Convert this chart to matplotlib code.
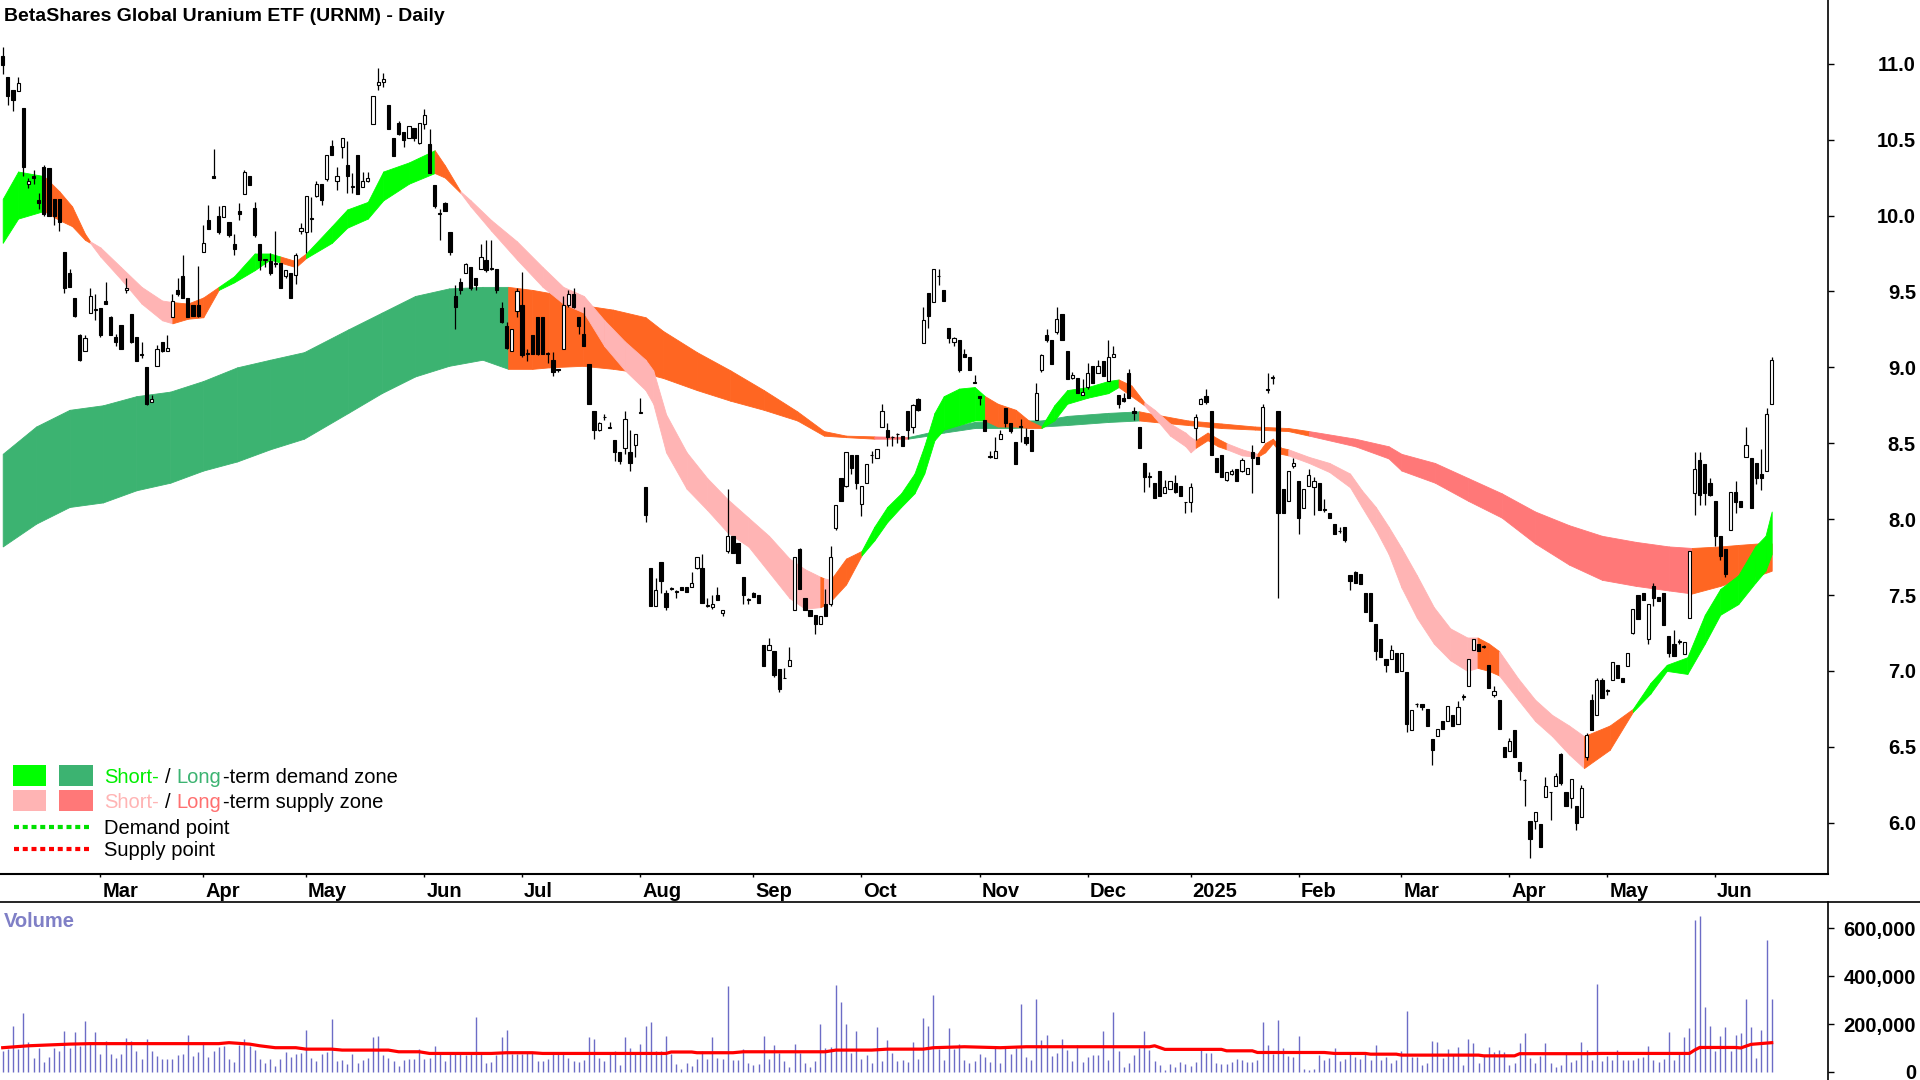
import numpy as np
import matplotlib
matplotlib.use("Agg")
import matplotlib.pyplot as plt
from matplotlib.lines import Line2D
from matplotlib.patches import Rectangle
from matplotlib.ticker import FuncFormatter
from matplotlib.transforms import ScaledTranslation

plt.rcParams['font.family'] = ['Liberation Sans', 'DejaVu Sans']

# ---- daily candles, Feb 2024 .. Jun 2025 ----
opens = [
    11.05, 10.91, 10.83, 10.82, 10.71, 10.21, 10.26, 10.10, 10.32, 10.31,
    10.11, 10.11, 9.76, 9.62, 9.46, 9.21, 9.11, 9.36, 9.38, 9.39,
    9.44, 9.33, 9.20, 9.28, 9.51, 9.35, 9.20, 9.09, 9.00, 8.77,
    9.01, 9.17, 9.11, 9.33, 9.51, 9.60, 9.46, 9.41, 9.41, 9.76,
    9.97, 10.26, 10.00, 9.99, 9.96, 9.81, 10.03, 10.14, 10.26, 10.05,
    9.81, 9.71, 9.70, 9.69, 9.69, 9.60, 9.62, 9.61, 9.90, 9.89,
    9.98, 10.13, 10.21, 10.24, 10.46, 10.23, 10.45, 10.33, 10.19, 10.40,
    10.19, 10.23, 10.60, 10.86, 10.88, 10.73, 10.51, 10.61, 10.55, 10.51,
    10.58, 10.48, 10.60, 10.47, 10.20, 10.01, 10.08, 9.89, 9.47, 9.56,
    9.62, 9.66, 9.59, 9.65, 9.71, 9.65, 9.65, 9.39, 9.27, 9.11,
    9.37, 9.41, 9.09, 9.21, 9.33, 9.33, 9.09, 9.05, 8.99, 9.12,
    9.41, 9.48, 9.33, 9.22, 9.02, 8.71, 8.59, 8.67, 8.60, 8.52,
    8.44, 8.47, 8.44, 8.49, 8.70, 8.21, 7.68, 7.43, 7.72, 7.51,
    7.54, 7.52, 7.55, 7.55, 7.55, 7.68, 7.68, 7.43, 7.42, 7.50,
    7.38, 7.79, 7.89, 7.84, 7.62, 7.47, 7.51, 7.50, 7.17, 7.14,
    7.13, 7.01, 6.95, 7.03, 7.40, 7.80, 7.48, 7.40, 7.37, 7.31,
    7.44, 7.44, 7.94, 8.27, 8.22, 8.42, 8.42, 8.10, 8.24, 8.42,
    8.40, 8.61, 8.59, 8.54, 8.56, 8.55, 8.71, 8.61, 8.79, 9.16,
    9.49, 9.43, 9.60, 9.51, 9.26, 9.17, 9.18, 9.09, 9.07, 8.90,
    8.81, 8.65, 8.41, 8.40, 8.53, 8.73, 8.63, 8.51, 8.61, 8.54,
    8.59, 8.65, 8.98, 9.21, 9.18, 9.23, 9.35, 9.11, 8.93, 8.93,
    8.82, 8.87, 9.01, 8.96, 9.04, 8.91, 9.07, 8.82, 8.80, 8.96,
    8.71, 8.61, 8.37, 8.28, 8.24, 8.32, 8.17, 8.20, 8.24, 8.22,
    8.11, 8.11, 8.60, 8.76, 8.81, 8.71, 8.40, 8.42, 8.26, 8.30,
    8.33, 8.32, 8.30, 8.44, 8.41, 8.51, 8.85, 8.93, 8.71, 8.20,
    8.12, 8.35, 8.25, 8.07, 8.22, 8.21, 8.24, 8.06, 8.04, 7.97,
    7.92, 7.95, 7.63, 7.65, 7.64, 7.51, 7.51, 7.31, 7.21, 7.08,
    7.08, 7.12, 7.00, 6.99, 6.61, 6.78, 6.78, 6.75, 6.55, 6.57,
    6.67, 6.67, 6.71, 6.65, 6.83, 6.90, 7.14, 7.18, 7.16, 7.04,
    6.84, 6.81, 6.50, 6.47, 6.61, 6.40, 6.28, 6.01, 6.01, 5.99,
    6.17, 6.20, 6.24, 6.45, 6.20, 6.16, 6.11, 6.04, 6.43, 6.81,
    6.71, 6.94, 6.87, 6.94, 7.04, 6.95, 7.03, 7.25, 7.50, 7.51,
    7.21, 7.56, 7.49, 7.51, 7.23, 7.18, 7.19, 7.11, 7.35, 8.17,
    8.39, 8.36, 8.24, 8.12, 7.89, 7.80, 7.93, 8.18, 8.12, 8.41,
    8.40, 8.37, 8.30, 8.32, 8.76,
]
highs = [
    11.11, 10.91, 10.83, 10.91, 10.71, 10.25, 10.30, 10.15, 10.33, 10.31,
    10.11, 10.11, 9.76, 9.65, 9.46, 9.22, 9.21, 9.52, 9.48, 9.39,
    9.56, 9.34, 9.22, 9.28, 9.59, 9.35, 9.20, 9.17, 9.00, 8.82,
    9.15, 9.17, 9.21, 9.48, 9.59, 9.74, 9.46, 9.41, 9.67, 9.94,
    10.07, 10.44, 10.06, 10.06, 9.96, 9.88, 10.08, 10.30, 10.26, 10.09,
    9.81, 9.71, 9.75, 9.90, 9.69, 9.64, 9.62, 9.75, 9.95, 10.13,
    10.12, 10.23, 10.21, 10.40, 10.50, 10.32, 10.51, 10.49, 10.28, 10.40,
    10.29, 10.29, 10.79, 10.97, 10.94, 10.73, 10.51, 10.62, 10.55, 10.59,
    10.58, 10.61, 10.70, 10.57, 10.20, 10.04, 10.09, 9.89, 9.54, 9.59,
    9.69, 9.66, 9.59, 9.81, 9.84, 9.84, 9.65, 9.43, 9.30, 9.25,
    9.52, 9.63, 9.12, 9.21, 9.33, 9.33, 9.10, 9.10, 8.99, 9.47,
    9.51, 9.52, 9.33, 9.40, 9.02, 8.71, 8.64, 8.69, 8.64, 8.52,
    8.44, 8.71, 8.59, 8.56, 8.80, 8.21, 7.68, 7.61, 7.72, 7.53,
    7.55, 7.53, 7.55, 7.55, 7.65, 7.75, 7.77, 7.48, 7.50, 7.55,
    7.40, 8.20, 7.89, 7.84, 7.62, 7.48, 7.52, 7.50, 7.17, 7.22,
    7.13, 7.01, 7.02, 7.16, 7.75, 7.81, 7.48, 7.40, 7.37, 7.36,
    7.54, 7.82, 8.09, 8.27, 8.44, 8.42, 8.42, 8.22, 8.36, 8.45,
    8.46, 8.76, 8.63, 8.55, 8.57, 8.55, 8.71, 8.76, 8.80, 9.40,
    9.49, 9.65, 9.65, 9.51, 9.26, 9.20, 9.18, 9.12, 9.07, 8.95,
    8.81, 8.65, 8.45, 8.54, 8.59, 8.73, 8.63, 8.51, 8.66, 8.60,
    8.59, 8.90, 9.09, 9.25, 9.18, 9.40, 9.35, 9.11, 8.97, 8.93,
    8.92, 9.03, 9.01, 9.05, 9.04, 9.18, 9.14, 8.82, 8.83, 8.99,
    8.74, 8.61, 8.37, 8.31, 8.24, 8.32, 8.26, 8.25, 8.29, 8.22,
    8.11, 8.24, 8.69, 8.80, 8.86, 8.71, 8.40, 8.42, 8.31, 8.33,
    8.33, 8.40, 8.34, 8.49, 8.41, 8.76, 8.96, 8.95, 8.71, 8.20,
    8.32, 8.40, 8.25, 8.20, 8.33, 8.28, 8.24, 8.13, 8.04, 7.97,
    7.95, 7.95, 7.63, 7.66, 7.64, 7.51, 7.51, 7.31, 7.21, 7.08,
    7.17, 7.12, 7.12, 6.99, 6.74, 6.79, 6.78, 6.75, 6.55, 6.62,
    6.67, 6.77, 6.71, 6.80, 6.85, 7.08, 7.21, 7.18, 7.17, 7.04,
    6.90, 6.81, 6.50, 6.56, 6.61, 6.40, 6.29, 6.01, 6.07, 5.99,
    6.30, 6.20, 6.33, 6.46, 6.20, 6.29, 6.11, 6.25, 6.59, 6.85,
    6.95, 6.95, 6.88, 7.06, 7.04, 6.95, 7.12, 7.41, 7.50, 7.51,
    7.44, 7.58, 7.49, 7.51, 7.23, 7.27, 7.21, 7.19, 7.79, 8.44,
    8.44, 8.36, 8.27, 8.12, 7.89, 7.80, 8.18, 8.25, 8.12, 8.61,
    8.40, 8.37, 8.46, 8.73, 9.07,
]
lows = [
    10.93, 10.73, 10.69, 10.82, 10.26, 10.18, 10.21, 10.04, 10.00, 10.00,
    9.94, 9.90, 9.49, 9.53, 9.33, 9.04, 9.11, 9.36, 9.31, 9.20,
    9.42, 9.21, 9.14, 9.12, 9.49, 9.16, 9.04, 9.06, 8.75, 8.77,
    9.01, 9.10, 9.11, 9.33, 9.47, 9.46, 9.33, 9.34, 9.33, 9.76,
    9.91, 10.25, 9.88, 9.99, 9.86, 9.74, 9.97, 10.14, 10.20, 9.86,
    9.64, 9.66, 9.61, 9.66, 9.52, 9.59, 9.46, 9.55, 9.88, 9.75,
    9.89, 10.12, 10.07, 10.23, 10.40, 10.17, 10.38, 10.15, 10.15, 10.14,
    10.19, 10.22, 10.60, 10.83, 10.85, 10.57, 10.39, 10.53, 10.45, 10.51,
    10.49, 10.47, 10.57, 10.28, 10.05, 9.84, 10.03, 9.74, 9.25, 9.48,
    9.62, 9.51, 9.51, 9.65, 9.63, 9.64, 9.49, 9.29, 9.12, 9.11,
    9.33, 9.07, 9.04, 9.09, 9.08, 9.09, 9.03, 8.94, 8.97, 9.12,
    9.40, 9.39, 9.22, 9.14, 8.76, 8.53, 8.58, 8.65, 8.60, 8.38,
    8.36, 8.43, 8.32, 8.41, 8.70, 7.98, 7.43, 7.43, 7.51, 7.40,
    7.53, 7.48, 7.53, 7.52, 7.55, 7.67, 7.45, 7.42, 7.41, 7.47,
    7.36, 7.78, 7.78, 7.71, 7.44, 7.44, 7.49, 7.45, 7.03, 7.14,
    6.96, 6.86, 6.95, 7.03, 7.40, 7.54, 7.40, 7.36, 7.24, 7.31,
    7.36, 7.43, 7.93, 8.12, 8.21, 8.30, 8.20, 8.02, 8.24, 8.37,
    8.40, 8.61, 8.48, 8.48, 8.50, 8.48, 8.53, 8.57, 8.71, 9.16,
    9.26, 9.43, 9.54, 9.44, 9.16, 9.14, 8.97, 9.07, 8.98, 8.90,
    8.75, 8.58, 8.40, 8.40, 8.53, 8.61, 8.57, 8.36, 8.51, 8.49,
    8.45, 8.65, 8.97, 9.17, 9.02, 9.22, 9.18, 8.92, 8.92, 8.83,
    8.82, 8.86, 8.90, 8.96, 8.94, 8.91, 9.07, 8.73, 8.77, 8.80,
    8.65, 8.47, 8.18, 8.21, 8.14, 8.15, 8.17, 8.20, 8.17, 8.15,
    8.04, 8.05, 8.52, 8.76, 8.76, 8.42, 8.31, 8.28, 8.25, 8.29,
    8.25, 8.31, 8.30, 8.17, 8.36, 8.51, 8.83, 8.89, 7.48, 8.04,
    8.12, 8.34, 7.90, 8.07, 8.22, 8.03, 8.06, 8.05, 8.01, 7.90,
    7.91, 7.85, 7.53, 7.58, 7.57, 7.39, 7.33, 7.07, 7.09, 6.99,
    7.08, 6.99, 7.00, 6.60, 6.61, 6.76, 6.74, 6.64, 6.38, 6.57,
    6.62, 6.67, 6.64, 6.65, 6.81, 6.90, 7.14, 7.13, 7.15, 6.89,
    6.83, 6.62, 6.43, 6.47, 6.43, 6.28, 6.11, 5.77, 5.96, 5.84,
    6.17, 6.02, 6.24, 6.25, 6.11, 6.10, 5.95, 6.04, 6.41, 6.61,
    6.71, 6.82, 6.84, 6.94, 6.95, 6.93, 7.03, 7.24, 7.34, 7.47,
    7.18, 7.43, 7.46, 7.30, 7.09, 7.10, 7.18, 7.11, 7.35, 8.03,
    8.09, 8.09, 8.15, 7.82, 7.73, 7.62, 7.93, 8.04, 8.08, 8.41,
    8.07, 8.23, 8.19, 8.32, 8.76,
]
closes = [
    10.99, 10.79, 10.76, 10.87, 10.32, 10.23, 10.25, 10.08, 10.01, 10.00,
    10.00, 9.96, 9.52, 9.53, 9.34, 9.05, 9.19, 9.47, 9.38, 9.21,
    9.42, 9.21, 9.17, 9.12, 9.52, 9.17, 9.04, 9.08, 8.76, 8.79,
    9.12, 9.11, 9.13, 9.44, 9.48, 9.46, 9.33, 9.34, 9.34, 9.82,
    9.91, 10.25, 9.89, 10.06, 9.87, 9.78, 10.01, 10.29, 10.20, 9.87,
    9.71, 9.71, 9.62, 9.68, 9.52, 9.64, 9.46, 9.74, 9.92, 10.13,
    9.98, 10.21, 10.10, 10.40, 10.40, 10.26, 10.51, 10.26, 10.19, 10.14,
    10.23, 10.25, 10.79, 10.88, 10.90, 10.57, 10.39, 10.54, 10.50, 10.59,
    10.51, 10.61, 10.66, 10.28, 10.06, 10.01, 10.03, 9.76, 9.40, 9.51,
    9.68, 9.52, 9.54, 9.73, 9.64, 9.65, 9.51, 9.30, 9.13, 9.25,
    9.50, 9.08, 9.09, 9.09, 9.09, 9.09, 9.09, 8.97, 8.98, 9.41,
    9.48, 9.40, 9.27, 9.14, 8.76, 8.59, 8.63, 8.67, 8.60, 8.44,
    8.38, 8.66, 8.37, 8.56, 8.70, 8.03, 7.43, 7.53, 7.59, 7.42,
    7.54, 7.52, 7.53, 7.52, 7.58, 7.75, 7.45, 7.43, 7.44, 7.47,
    7.40, 7.89, 7.78, 7.71, 7.50, 7.47, 7.49, 7.45, 7.03, 7.17,
    6.97, 6.88, 6.95, 7.07, 7.75, 7.54, 7.40, 7.36, 7.31, 7.36,
    7.36, 7.75, 8.09, 8.12, 8.44, 8.34, 8.24, 8.22, 8.36, 8.42,
    8.46, 8.71, 8.54, 8.54, 8.56, 8.48, 8.59, 8.75, 8.72, 9.31,
    9.34, 9.65, 9.60, 9.44, 9.19, 9.19, 8.98, 9.07, 8.98, 8.90,
    8.80, 8.58, 8.41, 8.45, 8.56, 8.63, 8.58, 8.36, 8.61, 8.50,
    8.45, 8.83, 9.08, 9.18, 9.02, 9.32, 9.18, 8.92, 8.95, 8.83,
    8.84, 8.96, 8.90, 9.01, 8.94, 9.07, 9.09, 8.76, 8.78, 8.80,
    8.70, 8.47, 8.28, 8.28, 8.14, 8.15, 8.21, 8.25, 8.18, 8.15,
    8.11, 8.21, 8.67, 8.79, 8.77, 8.42, 8.31, 8.28, 8.31, 8.32,
    8.25, 8.39, 8.34, 8.40, 8.36, 8.74, 8.85, 8.93, 8.04, 8.04,
    8.32, 8.37, 8.01, 8.20, 8.29, 8.25, 8.06, 8.06, 8.01, 7.90,
    7.92, 7.86, 7.59, 7.58, 7.57, 7.39, 7.33, 7.13, 7.09, 7.04,
    7.14, 6.99, 7.12, 6.65, 6.74, 6.78, 6.76, 6.64, 6.48, 6.62,
    6.62, 6.77, 6.64, 6.76, 6.83, 7.08, 7.21, 7.13, 7.16, 6.89,
    6.87, 6.62, 6.43, 6.54, 6.43, 6.34, 6.28, 5.89, 6.07, 5.84,
    6.24, 6.20, 6.31, 6.26, 6.11, 6.29, 6.00, 6.23, 6.58, 6.61,
    6.94, 6.82, 6.87, 7.06, 6.95, 6.93, 7.12, 7.41, 7.34, 7.47,
    7.44, 7.48, 7.46, 7.30, 7.12, 7.10, 7.19, 7.19, 7.79, 8.33,
    8.16, 8.17, 8.16, 7.89, 7.76, 7.64, 8.18, 8.11, 8.08, 8.49,
    8.07, 8.27, 8.27, 8.69, 9.05,
]

# daily volume, thousands of units
volume_k = [
    88, 94, 193, 95, 246, 123, 59, 99, 42, 63, 99, 88, 172, 101, 166, 109, 214, 116, 165, 73,
    127, 73, 59, 73, 143, 130, 88, 53, 136, 87, 67, 53, 53, 53, 70, 74, 155, 66, 83, 123,
    63, 88, 106, 109, 53, 42, 113, 137, 109, 91, 52, 38, 53, 24, 53, 83, 63, 76, 77, 175,
    57, 46, 73, 84, 221, 45, 49, 34, 73, 36, 49, 59, 147, 151, 71, 59, 46, 25, 49, 53,
    53, 94, 53, 59, 109, 84, 46, 73, 73, 84, 69, 81, 231, 73, 36, 41, 71, 147, 175, 74,
    74, 74, 77, 81, 45, 45, 52, 73, 73, 77, 60, 46, 42, 48, 147, 137, 59, 46, 73, 87,
    28, 147, 99, 85, 116, 193, 207, 87, 88, 151, 73, 31, 14, 39, 24, 53, 87, 53, 147, 56,
    52, 357, 49, 49, 94, 38, 28, 31, 151, 53, 112, 77, 45, 21, 116, 77, 38, 21, 45, 200,
    101, 106, 364, 292, 200, 77, 171, 53, 71, 38, 189, 45, 133, 77, 45, 48, 42, 123, 53, 227,
    193, 322, 97, 50, 183, 97, 116,
    49, 36, 45, 74, 63, 42, 101, 36, 98, 74, 98, 284, 63, 49, 305, 133, 154, 67, 78, 137,
    91, 45, 112, 42, 63, 70, 70, 171, 49, 249, 87, 21, 35, 70, 101, 171, 91, 45, 28, 7,
    32, 21, 42, 32, 25, 42, 98, 77, 80, 35, 31, 31, 42, 52, 49, 42, 42, 49, 207, 112,
    74, 217, 98, 66, 63, 150, 14, 7, 14, 70, 49, 56, 98, 45, 52, 84, 63, 52, 80, 49,
    112, 49, 63, 38, 49, 87, 255, 63, 63, 28, 38, 129, 123, 59, 94, 73, 105, 28, 137, 122,
    38, 70, 105, 84, 91, 84, 28, 38, 122, 161, 60, 35, 66, 119, 35, 21, 28, 84, 42, 49,
    126, 91, 49, 368, 46, 66, 49, 91, 49, 49, 49, 59, 63, 109, 49, 42, 52, 168, 49, 73,
    147, 185, 634, 651, 273, 193, 88, 151, 189, 87, 154, 164, 305, 189, 59, 175, 553, 305,
]

# volume average line (red), read at its turning points
vol_ma_idx = [0, 5, 13, 17, 30, 42, 44, 48, 50, 53, 57, 59, 64, 66, 75, 77, 81, 83, 95, 98,
              103, 105, 129, 130, 134, 135, 142, 144, 160, 162, 169, 172, 179, 181, 187, 194,
              199, 223, 224, 226, 237, 238, 243, 244, 257, 259, 265, 266, 271, 272, 287, 288,
              294, 295, 308, 311, 328, 329, 330, 337, 338, 340, 344]
vol_ma_k = [101, 109, 116, 118, 118, 118, 122, 116, 109, 101, 101, 95, 95, 91, 91, 84, 84, 77,
            77, 80, 80, 77, 77, 83, 83, 80, 80, 84, 84, 91, 91, 95, 95, 101, 105, 101, 105, 105,
            109, 94, 94, 88, 88, 81, 81, 77, 77, 74, 74, 70, 70, 67, 67, 76, 76, 77, 77, 91,
            102, 102, 100, 115, 122]

# short-term band (D = demand, S = supply, M = mixed); zone applies to the next segment
short_idx = [0, 3, 8, 11, 13.5, 16, 17, 19, 23, 27, 31, 33, 36, 39, 42, 45, 49, 52, 54, 57,
             59, 64, 67, 71, 74, 79, 84, 86, 89, 91, 95, 100, 105, 109, 113, 117, 121, 125,
             126.5, 129, 133, 137, 141, 145, 149, 153, 156, 159, 159.7, 161, 164, 167, 169.5,
             172, 174.7, 177.3, 179.2, 181.2, 183, 186, 189, 191, 193.5, 197, 199.5, 202,
             204.5, 207, 211, 215, 217, 219.5, 222, 224, 227, 230, 231, 232, 234.3, 236.3,
             238, 241, 244, 245.5, 247, 248.6, 250, 254, 258, 262, 264.3, 267, 269.5, 272,
             275, 278.3, 281.5, 284.8, 286.8, 289, 291, 294.7, 298, 301.3, 304.6, 307.5,
             312.5, 317, 320.4, 323.6, 327.6, 331, 334, 337.5, 340.8, 342.8, 344]
short_top = [10.11, 10.29, 10.26, 10.16, 10.06, 9.88, 9.83, 9.79, 9.66, 9.53, 9.44, 9.43,
             9.42, 9.46, 9.53, 9.60, 9.75, 9.75, 9.73, 9.70, 9.75, 9.93, 10.04, 10.09, 10.29,
             10.35, 10.43, 10.33, 10.16, 10.10, 9.97, 9.83, 9.66, 9.53, 9.47, 9.31, 9.17,
             9.05, 8.98, 8.69, 8.44, 8.27, 8.13, 8.01, 7.89, 7.74, 7.67, 7.62, 7.61, 7.60,
             7.74, 7.79, 7.95, 8.08, 8.17, 8.30, 8.48, 8.70, 8.81, 8.86, 8.87, 8.81, 8.76,
             8.72, 8.65, 8.61, 8.75, 8.85, 8.87, 8.91, 8.92, 8.88, 8.77, 8.72, 8.63, 8.57,
             8.54, 8.52, 8.57, 8.53, 8.50, 8.46, 8.43, 8.50, 8.53, 8.47, 8.46, 8.41, 8.37,
             8.30, 8.19, 8.08, 7.95, 7.81, 7.63, 7.42, 7.28, 7.22, 7.22, 7.18, 7.13, 6.95,
             6.81, 6.71, 6.64, 6.57, 6.64, 6.75, 6.92, 7.04, 7.09, 7.37, 7.54, 7.63, 7.82,
             7.89, 8.05]
short_bot = [9.82, 9.98, 10.03, 9.97, 9.93, 9.84, 9.82, 9.73, 9.58, 9.42, 9.31, 9.29, 9.32,
             9.33, 9.51, 9.56, 9.64, 9.71, 9.69, 9.66, 9.72, 9.82, 9.92, 9.98, 10.10, 10.21,
             10.28, 10.25, 10.15, 10.06, 9.90, 9.71, 9.53, 9.42, 9.36, 9.14, 8.98, 8.85,
             8.76, 8.44, 8.20, 8.06, 7.91, 7.82, 7.65, 7.48, 7.41, 7.42, 7.43, 7.46, 7.57,
             7.76, 7.86, 7.98, 8.08, 8.17, 8.30, 8.52, 8.59, 8.62, 8.65, 8.65, 8.61, 8.61,
             8.60, 8.60, 8.65, 8.76, 8.80, 8.83, 8.87, 8.81, 8.75, 8.67, 8.55, 8.48, 8.44,
             8.47, 8.52, 8.48, 8.46, 8.42, 8.41, 8.44, 8.50, 8.43, 8.42, 8.37, 8.31, 8.21,
             8.08, 7.93, 7.77, 7.55, 7.35, 7.18, 7.07, 7.00, 7.02, 7.00, 6.97, 6.81, 6.67,
             6.57, 6.45, 6.36, 6.48, 6.73, 6.85, 7.00, 6.98, 7.18, 7.37, 7.44, 7.58, 7.66,
             7.77]
short_zone = ['D', 'D', 'M', 'M', 'M', 'M', 'S', 'S', 'S', 'S', 'S', 'M', 'M', 'M', 'D', 'D',
              'D', 'D', 'M', 'M', 'D', 'D', 'D', 'D', 'D', 'D', 'M', 'M', 'S', 'S', 'S', 'S',
              'S', 'S', 'S', 'S', 'S', 'S', 'S', 'S', 'S', 'S', 'S', 'S', 'S', 'S', 'S', 'M',
              'S', 'M', 'M', 'D', 'D', 'D', 'D', 'D', 'D', 'D', 'D', 'D', 'D', 'M', 'M', 'M',
              'M', 'D', 'D', 'D', 'D', 'D', 'M', 'M', 'S', 'S', 'S', 'S', 'S', 'M', 'M', 'M',
              'S', 'S', 'M', 'M', 'M', 'M', 'S', 'S', 'S', 'S', 'S', 'S', 'S', 'S', 'S', 'S',
              'S', 'S', 'M', 'M', 'S', 'S', 'S', 'S', 'S', 'M', 'M', 'D', 'D', 'D', 'D', 'D',
              'D', 'D', 'D', 'D', 'D']

# long-term band
long_idx = [0, 6.5, 13, 19.5, 26, 32.6, 39, 45.6, 52, 58.6, 67.2, 73.7, 80.2, 86.8, 93.3,
            98.3, 103, 106.3, 112.8, 118.7, 125, 128.4, 135, 141.5, 148, 154.5, 159.7, 164,
            169.5, 176, 180, 183, 189, 196, 202, 207, 215, 221, 224, 230.5, 237, 243.5, 250,
            254, 263, 269.5, 272, 278.5, 285, 291.5, 298, 304.6, 311, 317.6, 324, 328.5, 334,
            337.5, 341.5, 344]
long_top = [8.43, 8.61, 8.72, 8.75, 8.81, 8.84, 8.91, 9.00, 9.05, 9.10, 9.25, 9.36, 9.47,
            9.52, 9.53, 9.53, 9.51, 9.49, 9.41, 9.38, 9.33, 9.24, 9.10, 8.98, 8.85, 8.71,
            8.58, 8.55, 8.545, 8.54, 8.57, 8.60, 8.64, 8.65, 8.65, 8.68, 8.70, 8.71, 8.69,
            8.65, 8.63, 8.61, 8.60, 8.58, 8.53, 8.48, 8.43, 8.37, 8.27, 8.17, 8.05, 7.96,
            7.89, 7.85, 7.82, 7.81, 7.82, 7.83, 7.84, 7.84]
long_bot = [7.82, 7.97, 8.08, 8.11, 8.19, 8.24, 8.32, 8.38, 8.46, 8.53, 8.70, 8.83, 8.94,
            9.01, 9.05, 8.99, 8.99, 9.00, 9.01, 8.99, 8.96, 8.93, 8.85, 8.78, 8.72, 8.65,
            8.55, 8.54, 8.53, 8.53, 8.55, 8.57, 8.60, 8.60, 8.61, 8.62, 8.64, 8.65, 8.64,
            8.62, 8.60, 8.59, 8.58, 8.55, 8.48, 8.40, 8.32, 8.24, 8.12, 8.01, 7.84, 7.70,
            7.60, 7.56, 7.53, 7.51, 7.56, 7.60, 7.63, 7.66]
long_zone = ['D'] * 15 + ['M'] * 13 + ['S'] + ['D'] * 8 + ['M'] * 6 + ['S'] * 12 + ['M'] * 5

month_idx = [19, 39, 59, 82, 101, 124, 146, 167, 190, 211, 231, 252, 272, 293, 312, 333]
month_lbl = ['Mar', 'Apr', 'May', 'Jun', 'Jul', 'Aug', 'Sep', 'Oct', 'Nov', 'Dec',
             '2025', 'Feb', 'Mar', 'Apr', 'May', 'Jun']

short_col = {'D': '#00FF00', 'S': '#FFB4B4', 'M': '#FF6622'}
long_col = {'D': '#3CB371', 'S': '#FF7878', 'M': '#FF6622'}

W, H = 1920, 1080
fig = plt.figure(figsize=(19.2, 10.8), dpi=100)
ax = fig.add_axes([0, 1 - 874 / H, 1828 / W, 874 / H])
axv = fig.add_axes([0, 0, 1828 / W, (H - 902) / H])

x = np.arange(len(closes))
o = np.array(opens); c = np.array(closes)
h = np.array(highs); l = np.array(lows)


def draw_band(idx, top, bot, zones, colors, z):
    for k in range(len(idx) - 1):
        col = colors[zones[k]]
        ax.fill_between(idx[k:k + 2], bot[k:k + 2], top[k:k + 2], facecolor=col,
                        edgecolor=col, linewidth=0.6, zorder=z)


draw_band(long_idx, long_top, long_bot, long_zone, long_col, 1)
draw_band(short_idx, short_top, short_bot, short_zone, short_col, 2)

# candles
up = c >= o
ax.vlines(x, l, h, color='black', linewidth=0.9, zorder=3)
lo = np.minimum(o, c)
bh = np.maximum(np.abs(c - o), 0.004)
ax.bar(x[up], bh[up], bottom=lo[up], width=0.62, color='white', edgecolor='black',
       linewidth=0.8, zorder=4)
ax.bar(x[~up], bh[~up], bottom=lo[~up], width=0.62, color='black', edgecolor='black',
       linewidth=0.8, zorder=4)

xmin, xmax = -0.525, 354.95
ax.set_xlim(xmin, xmax)
ax.set_ylim(5.662, 11.42)
for s in ['left', 'top']:
    ax.spines[s].set_visible(False)
ax.spines['right'].set_linewidth(1.2)
ax.spines['bottom'].set_linewidth(1.5)
ax.yaxis.tick_right()
ax.set_yticks(np.arange(6.0, 11.01, 0.5))
ax.yaxis.set_major_formatter(FuncFormatter(lambda v, p: f'{v:.1f}'))
ax.tick_params(axis='y', direction='out', length=4.3, width=1, pad=59, labelsize=14.5)
plt.setp(ax.get_yticklabels(), ha='right', fontweight='bold')
ax.set_xticks(month_idx)
ax.set_xticklabels(month_lbl)
ax.tick_params(axis='x', direction='out', length=2.5, width=1, pad=3.5, labelsize=14.5)
shift = ScaledTranslation(2 / 100, 0, fig.dpi_scale_trans)
for lbl in ax.get_xticklabels():
    lbl.set_ha('left')
    lbl.set_fontweight('bold')
    lbl.set_transform(lbl.get_transform() + shift)

# volume panel
vol = np.array(volume_k) * 1000
axv.vlines(x, 0, vol, color='#6c6cc6', linewidth=1.0, zorder=2)
axv.plot(vol_ma_idx, np.array(vol_ma_k) * 1000, color='#FF0000', linewidth=2.3, zorder=3)
axv.set_xlim(xmin, xmax)
axv.set_ylim(-34000, 710000)
for s in ['left', 'top', 'bottom']:
    axv.spines[s].set_visible(False)
axv.spines['right'].set_linewidth(1.2)
axv.set_xticks([])
axv.yaxis.tick_right()
axv.set_yticks([0, 200000, 400000, 600000])
axv.yaxis.set_major_formatter(FuncFormatter(lambda v, p: f'{v:,.0f}'))
axv.tick_params(axis='y', direction='out', length=4.3, width=1, pad=59, labelsize=14.5)
plt.setp(axv.get_yticklabels(), ha='right', fontweight='bold')
fig.add_artist(Line2D([0, 1], [1 - 902 / H] * 2, color='black', linewidth=1.2))
fig.text(4 / W, 1 - 927 / H, 'Volume', color='#7f7fc6', fontsize=14.5, fontweight='bold',
         va='baseline', ha='left')

# title
fig.text(4 / W, 1 - 21 / H, 'BetaShares Global Uranium ETF (URNM) - Daily', fontsize=14,
         fontweight='bold', va='baseline', ha='left')


# legend
def box(x0, y0, x1, y1, col):
    fig.add_artist(Rectangle((x0 / W, 1 - y1 / H), (x1 - x0) / W, (y1 - y0) / H,
                             transform=fig.transFigure, facecolor=col, edgecolor='none'))


def rich(x_px, base_px, parts):
    prev = fig.text(x_px / W, 1 - base_px / H, parts[0][0], color=parts[0][1],
                    fontsize=14.5, va='baseline', ha='left')
    for s, col, gap in parts[1:]:
        prev = ax.annotate(s, xy=(1, 0), xycoords=prev, xytext=(gap, 0),
                           textcoords='offset points', va='bottom', ha='left', color=col,
                           fontsize=14.5, annotation_clip=False)


box(13, 765, 46, 786, '#00FF00')
box(59, 765, 93, 786, '#3CB371')
box(13, 790, 46, 811, '#FFB4B4')
box(59, 790, 93, 811, '#FF7878')
rich(104, 783, [('Short-', '#00EE00'), ('/', 'black', 4.5), ('Long', '#3CB371', 4.5),
                ('-term demand zone', 'black', 0.8)])
rich(104, 808, [('Short-', '#FFB4B4'), ('/', 'black', 4.5), ('Long', '#FF7070', 4.5),
                ('-term supply zone', 'black', 0.8)])
fig.add_artist(Line2D([14 / W, 92 / W], [1 - 827 / H] * 2, color='#00E000', linewidth=3,
                      linestyle=(0, (1.2, 0.9))))
fig.add_artist(Line2D([14 / W, 92 / W], [1 - 849 / H] * 2, color='#FF0000', linewidth=3,
                      linestyle=(0, (1.2, 0.9))))
fig.text(104 / W, 1 - 834 / H, 'Demand point', fontsize=14.5, va='baseline', ha='left')
fig.text(104 / W, 1 - 856 / H, 'Supply point', fontsize=14.5, va='baseline', ha='left')

fig.savefig('out.png', dpi=100)
